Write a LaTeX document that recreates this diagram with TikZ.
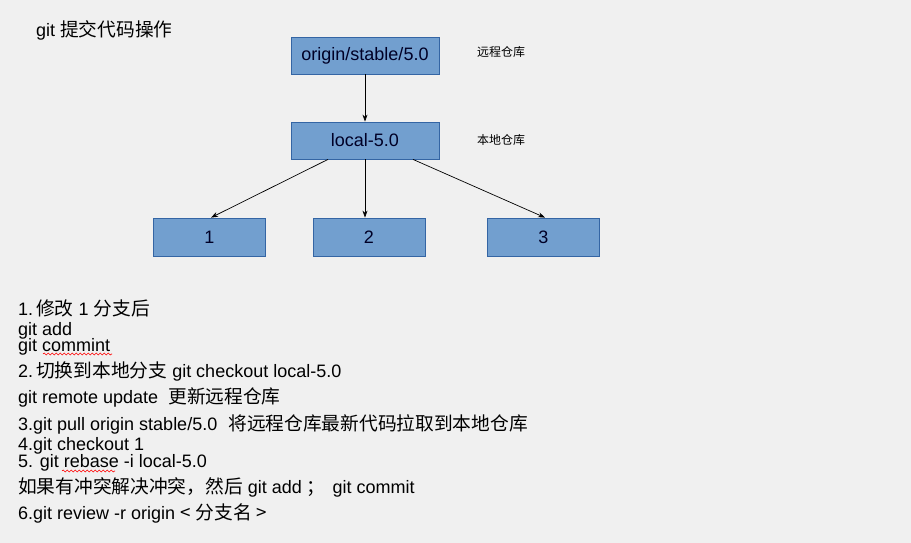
\documentclass[tikz,border=0pt]{standalone}
\usepackage{fontspec}
\setmainfont{Liberation Sans}
\newfontfamily\cjk[Scale=1.04]{Noto Sans CJK SC}
\usetikzlibrary{arrows.meta,calc,decorations.pathmorphing}
\definecolor{bgc}{HTML}{F0F0F0}
\definecolor{boxfill}{HTML}{729FCF}
\definecolor{boxline}{HTML}{3465A4}
\begin{document}
\begin{tikzpicture}[x=1pt,y=-1pt,
  repobox/.style={draw=boxline,fill=boxfill,line width=0.8pt,inner sep=0pt,
    font=\fontsize{18}{22}\selectfont,text=black!85!blue},
  bigbox/.style={repobox,minimum width=148pt,minimum height=37pt},
  smallbox/.style={repobox,minimum width=112pt,minimum height=38pt},
  sidelabel/.style={anchor=west,inner sep=0pt,font=\fontsize{11.5}{14}\selectfont\cjk},
  bodyline/.style={anchor=base west,inner sep=0pt,font=\fontsize{18}{22}\selectfont},
  conn/.style={draw=black,line width=0.7pt,-{Stealth[length=7pt,width=5pt]}},
  squiggle/.style={draw=red,line width=0.6pt,decorate,decoration={snake,segment length=4pt,amplitude=1pt}}]
\useasboundingbox (0,0) rectangle (911,543);
\fill[bgc] (0,0) rectangle (911,543);

\node[bodyline] (title) at (36,37) {git\hspace{5pt}{\cjk 提交代码操作}};

\node[bigbox] (origin) at (365,55.5) {origin/stable/5.0};
\node[bigbox] (local) at (365,140.5) {local-5.0};
\node[smallbox] (b1) at (209.5,237) {1};
\node[smallbox] (b2) at (369,237) {2};
\node[smallbox] (b3) at (543.3,237) {3};

\node[sidelabel] (lremote) at (477,52) {远程仓库};
\node[sidelabel] (llocal) at (477,140) {本地仓库};

\draw[conn] (origin.south) -- (local.north);
\draw[conn] ($(local.south)+(-37,0)$) -- ($(b1.north)+(1.5,0)$);
\draw[conn] (local.south) -- ($(b2.north)+(-4,0)$);
\draw[conn] ($(local.south)+(48,0)$) -- ($(b3.north)+(1.7,0)$);

\node[bodyline] (t1) at (18,315) {1.\hspace{3pt}{\cjk 修改} 1 {\cjk 分支后}};
\node[bodyline] (t2) at (18,335) {git add};
\node[bodyline] (t3) at (18,351.5) {git commint};
\node[bodyline] (t4) at (18,377) {2.\hspace{3pt}{\cjk 切换到本地分支} git checkout local-5.0};
\node[bodyline] (t5) at (18,403) {git remote update\hspace{5pt} {\cjk 更新远程仓库}};
\node[bodyline] (t6) at (18,430) {3.git pull origin stable/5.0\hspace{6pt} {\cjk 将远程仓库最新代码拉取到本地仓库}};
\node[bodyline] (t7) at (18,450) {4.git checkout 1};
\node[bodyline] (t8) at (18,467.5) {5. git rebase -i local-5.0};
\node[bodyline] (t9) at (18,493) {{\cjk 如果有冲突解决冲突，然后} git add {\cjk ；}\hspace{2pt} git commit};
\node[bodyline] (t10) at (18,519) {6.git review -r origin {\cjk <} {\cjk 分支名} {\cjk >}};

\draw[squiggle] (43,354) -- (112,354);
\draw[squiggle] (62,471) -- (115,471);
\end{tikzpicture}
\end{document}
